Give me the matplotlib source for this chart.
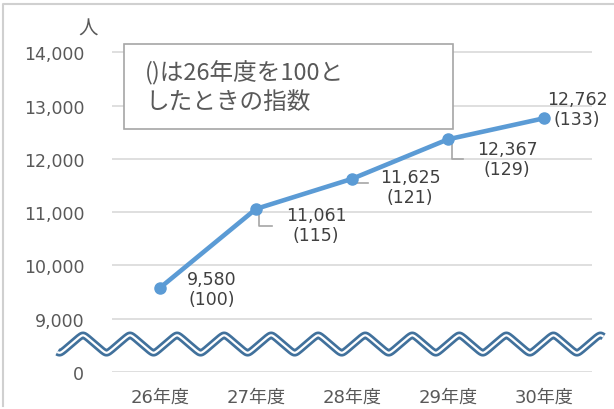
import numpy as np
import matplotlib
matplotlib.use('Agg')
import matplotlib.pyplot as plt
from matplotlib.patches import Rectangle
from matplotlib.lines import Line2D

plt.rcParams['font.family'] = ['DejaVu Sans', 'Noto Sans CJK JP']

# データ
nendo = ['26年度', '27年度', '28年度', '29年度', '30年度']
ninzu = [9580, 11061, 11625, 12367, 12762]
shisu = [100, 115, 121, 129, 133]
y_ticks = [8000, 9000, 10000, 11000, 12000, 13000, 14000]
y_labels = ['0', '9,000', '10,000', '11,000', '12,000', '13,000', '14,000']

blue = '#5B9BD5'
grid_gray = '#D9D9D9'
txt_gray = '#595959'

fig = plt.figure(figsize=(6.14, 4.10), dpi=100)
ax = fig.add_axes([0.1824, 0.0902, 0.7818, 0.8318])

x = np.arange(len(nendo))
ax.plot(x, ninzu, color=blue, linewidth=3.3, marker='o', markersize=8, zorder=5)

ax.set_xlim(-0.5, 4.5)
ax.set_ylim(8000, 14400)
ax.set_yticks(y_ticks)
ax.set_yticklabels(y_labels)
ax.set_xticks(x)
ax.set_xticklabels(nendo)
ax.tick_params(axis='y', length=0, pad=20, labelsize=12.5, labelcolor=txt_gray)
ax.tick_params(axis='x', length=0, pad=11, labelsize=13, labelcolor=txt_gray)
for s in ax.spines.values():
    s.set_visible(False)
ax.grid(axis='y', color=grid_gray, linewidth=1.2)
ax.set_axisbelow(True)

# 波線 (省略記号) - 角の丸いジグザグ
wx = np.linspace(-1.07, 4.62, 1200)
phase = 2 * np.pi * (wx + 0.802) / 0.49 + np.pi / 2
wy = 8525 + 200 * (2 / np.pi) * np.arcsin(0.96 * np.sin(phase))
ax.plot(wx, wy, color='#41719C', linewidth=5.5, clip_on=False, zorder=3,
        solid_capstyle='butt', solid_joinstyle='round')
ax.plot(wx, wy, color='white', linewidth=1.6, clip_on=False, zorder=4,
        solid_capstyle='butt', solid_joinstyle='round')

# データラベル
offsets = [(52, -1), (60, -16), (58, -8), (59, -20), (33, 9)]
for i in range(len(ninzu)):
    ax.annotate(f'{ninzu[i]:,}\n({shisu[i]})', (x[i], ninzu[i]),
                xytext=offsets[i], textcoords='offset pixels',
                ha='center', va='center', fontsize=12.5, color='#404040',
                linespacing=1.15, zorder=6)

# 引き出し線
lead_gray = '#A6A6A6'
ax.plot([1.03, 1.03, 1.17], [ninzu[1] - 90, ninzu[1] - 320, ninzu[1] - 320],
        color=lead_gray, linewidth=1.2, zorder=4)
ax.plot([2.04, 2.17], [ninzu[2] - 75, ninzu[2] - 75],
        color=lead_gray, linewidth=1.2, zorder=4)
ax.plot([3.04, 3.04, 3.16], [ninzu[3] - 60, ninzu[3] - 375, ninzu[3] - 375],
        color=lead_gray, linewidth=1.2, zorder=4)

# 単位
fig.text(88 / 614, 1 - 29 / 410, '人', fontsize=14, color=txt_gray,
         ha='center', va='center', family=['Noto Sans CJK JP'])

# 注記ボックス
fig.patches.append(Rectangle((124 / 614, 1 - 130 / 410), 329 / 614, 85 / 410,
                             transform=fig.transFigure, facecolor='white',
                             edgecolor='#A6A6A6', linewidth=1.2, zorder=10))
fig.text(145 / 614, 1 - 87.5 / 410, '()は26年度を100と\nしたときの指数',
         fontsize=17, color=txt_gray, ha='left', va='center',
         linespacing=1.35, zorder=11, family=['Noto Sans CJK JP'])

# 外枠 (上と左のみ)
fig.lines.append(Line2D([3 / 614, 3 / 614, 1], [3 / 410, 1 - 5 / 410, 1 - 5 / 410],
                        transform=fig.transFigure, color='#D0D0D0', linewidth=1.5))

fig.savefig('out.png', dpi=100)
